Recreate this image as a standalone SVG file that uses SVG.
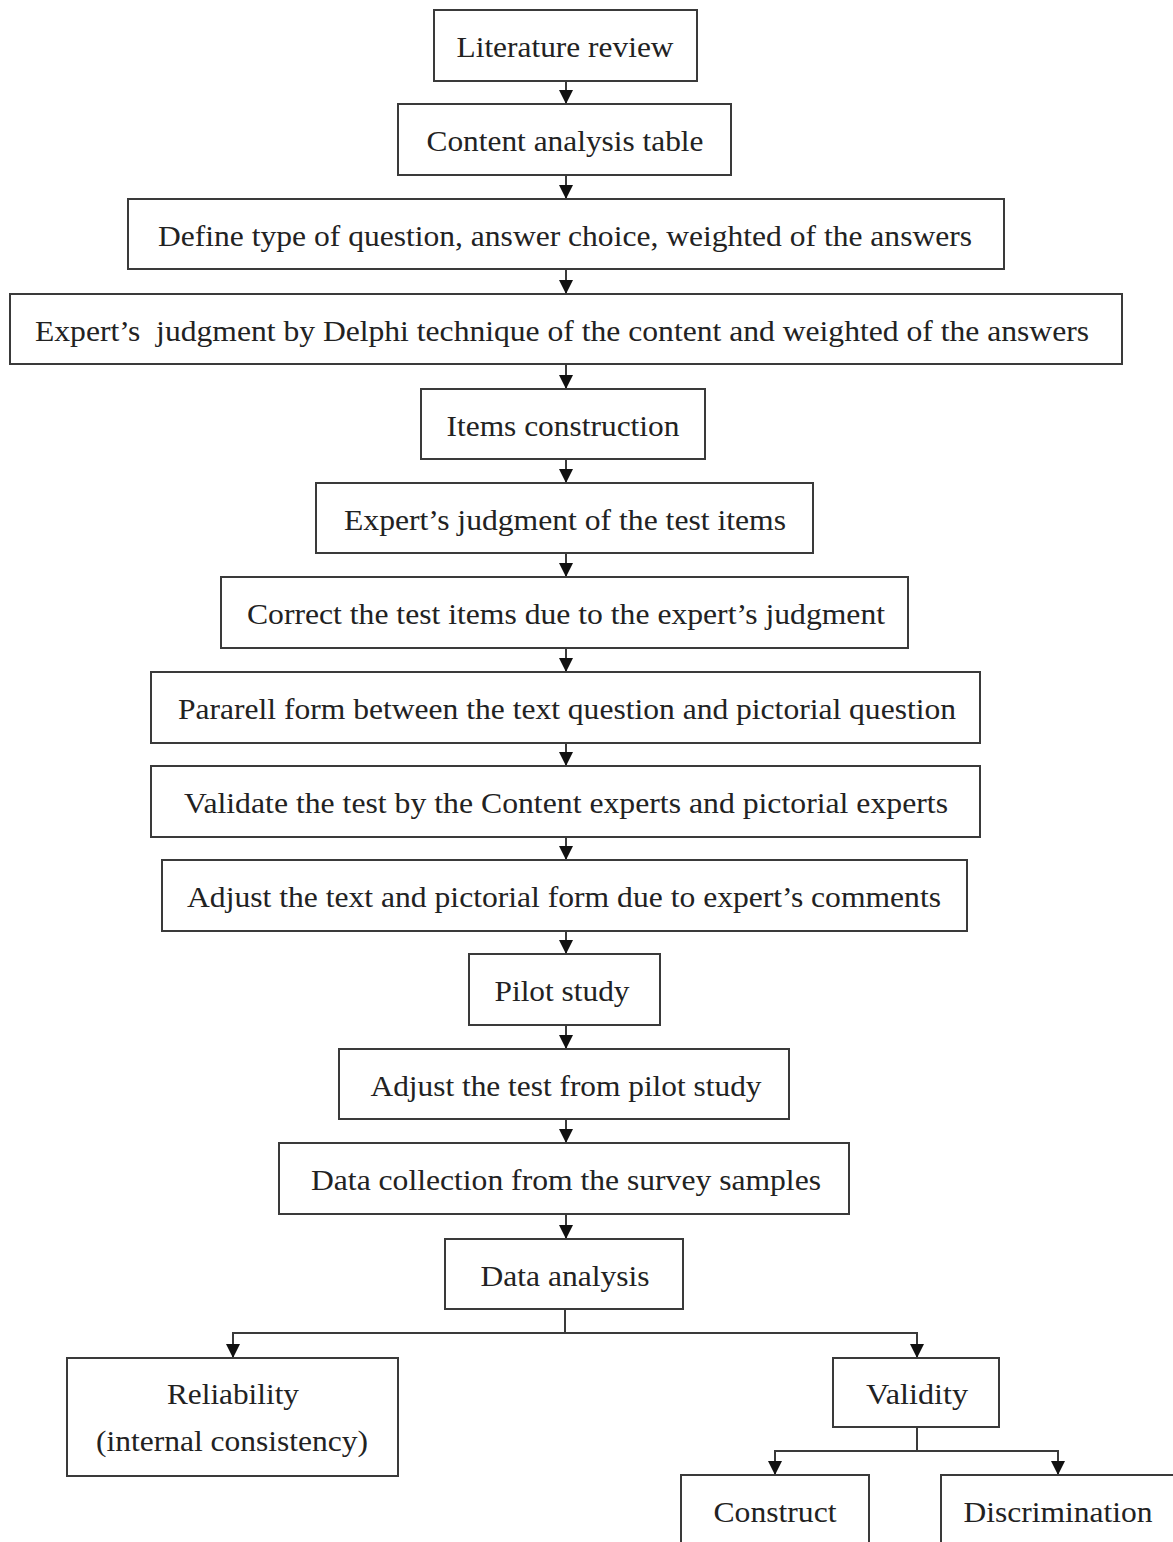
<svg xmlns="http://www.w3.org/2000/svg" width="1173" height="1542" viewBox="0 0 1173 1542">
<style>
.b{fill:#fff;stroke:#3a3a3a;stroke-width:2}
.t{font-family:"Liberation Serif","Times New Roman",serif;font-size:29px;fill:#222;text-anchor:middle}
.c{fill:none;stroke:#3a3a3a;stroke-width:2}
</style>
<defs>
<marker id="ad" markerUnits="userSpaceOnUse" markerWidth="14" markerHeight="14" viewBox="0 0 14 14" refX="7" refY="14" orient="0">
<path d="M0,0 L14,0 L7,14 Z" fill="#111"/>
</marker>
</defs>
<rect width="1173" height="1542" fill="#fff"/>
<g id="connectors">
<path class="c" d="M566,81 V104" marker-end="url(#ad)"/>
<path class="c" d="M566,175 V199" marker-end="url(#ad)"/>
<path class="c" d="M566,269 V294" marker-end="url(#ad)"/>
<path class="c" d="M566,364 V389" marker-end="url(#ad)"/>
<path class="c" d="M566,459 V483" marker-end="url(#ad)"/>
<path class="c" d="M566,553 V577" marker-end="url(#ad)"/>
<path class="c" d="M566,648 V672" marker-end="url(#ad)"/>
<path class="c" d="M566,743 V766" marker-end="url(#ad)"/>
<path class="c" d="M566,837 V860" marker-end="url(#ad)"/>
<path class="c" d="M566,931 V954" marker-end="url(#ad)"/>
<path class="c" d="M566,1025 V1049" marker-end="url(#ad)"/>
<path class="c" d="M566,1119 V1143" marker-end="url(#ad)"/>
<path class="c" d="M566,1214 V1239" marker-end="url(#ad)"/>
<path class="c" d="M565,1309 V1333"/>
<path class="c" d="M565,1333 H233 V1358" marker-end="url(#ad)"/>
<path class="c" d="M565,1333 H917 V1358" marker-end="url(#ad)"/>
<path class="c" d="M917,1427 V1451"/>
<path class="c" d="M917,1451 H775 V1475" marker-end="url(#ad)"/>
<path class="c" d="M917,1451 H1058 V1475" marker-end="url(#ad)"/>
</g>
<g id="n1"><rect class="b" x="434" y="10" width="263" height="71"/><text class="t" x="565" y="57" textLength="217" lengthAdjust="spacingAndGlyphs">Literature review</text></g>
<g id="n2"><rect class="b" x="398" y="104" width="333" height="71"/><text class="t" x="565" y="151" textLength="277" lengthAdjust="spacingAndGlyphs">Content analysis table</text></g>
<g id="n3"><rect class="b" x="128" y="199" width="876" height="70"/><text class="t" x="565" y="246" textLength="814" lengthAdjust="spacingAndGlyphs">Define type of question, answer choice, weighted of the answers</text></g>
<g id="n4"><rect class="b" x="10" y="294" width="1112" height="70"/><text class="t" x="562" y="341" textLength="1054" lengthAdjust="spacingAndGlyphs" xml:space="preserve">Expert’s  judgment by Delphi technique of the content and weighted of the answers</text></g>
<g id="n5"><rect class="b" x="421" y="389" width="284" height="70"/><text class="t" x="563" y="436" textLength="233" lengthAdjust="spacingAndGlyphs">Items construction</text></g>
<g id="n6"><rect class="b" x="316" y="483" width="497" height="70"/><text class="t" x="565" y="530" textLength="442" lengthAdjust="spacingAndGlyphs">Expert’s judgment of the test items</text></g>
<g id="n7"><rect class="b" x="221" y="577" width="687" height="71"/><text class="t" x="566" y="624" textLength="638" lengthAdjust="spacingAndGlyphs">Correct the test items due to the expert’s judgment</text></g>
<g id="n8"><rect class="b" x="151" y="672" width="829" height="71"/><text class="t" x="567" y="719" textLength="778" lengthAdjust="spacingAndGlyphs">Pararell form between the text question and pictorial question</text></g>
<g id="n9"><rect class="b" x="151" y="766" width="829" height="71"/><text class="t" x="566" y="813" textLength="764" lengthAdjust="spacingAndGlyphs">Validate the test by the Content experts and pictorial experts</text></g>
<g id="n10"><rect class="b" x="162" y="860" width="805" height="71"/><text class="t" x="564" y="907" textLength="754" lengthAdjust="spacingAndGlyphs">Adjust the text and pictorial form due to expert’s comments</text></g>
<g id="n11"><rect class="b" x="469" y="954" width="191" height="71"/><text class="t" x="562" y="1001" textLength="135" lengthAdjust="spacingAndGlyphs">Pilot study</text></g>
<g id="n12"><rect class="b" x="339" y="1049" width="450" height="70"/><text class="t" x="566" y="1096" textLength="391" lengthAdjust="spacingAndGlyphs">Adjust the test from pilot study</text></g>
<g id="n13"><rect class="b" x="279" y="1143" width="570" height="71"/><text class="t" x="566" y="1190" textLength="510" lengthAdjust="spacingAndGlyphs">Data collection from the survey samples</text></g>
<g id="n14"><rect class="b" x="445" y="1239" width="238" height="70"/><text class="t" x="565" y="1286" textLength="169" lengthAdjust="spacingAndGlyphs">Data analysis</text></g>
<g id="n15"><rect class="b" x="67" y="1358" width="331" height="118"/><text class="t" x="233" y="1404" textLength="132" lengthAdjust="spacingAndGlyphs">Reliability</text><text class="t" x="232" y="1451" textLength="272" lengthAdjust="spacingAndGlyphs">(internal consistency)</text></g>
<g id="n16"><rect class="b" x="833" y="1358" width="166" height="69"/><text class="t" x="917" y="1404" textLength="102" lengthAdjust="spacingAndGlyphs">Validity</text></g>
<g id="n17"><rect class="b" x="681" y="1475" width="188" height="80"/><text class="t" x="775" y="1522" textLength="123" lengthAdjust="spacingAndGlyphs">Construct</text></g>
<g id="n18"><rect class="b" x="941" y="1475" width="250" height="80"/><text class="t" x="1058" y="1522" textLength="189" lengthAdjust="spacingAndGlyphs">Discrimination</text></g>
</svg>
